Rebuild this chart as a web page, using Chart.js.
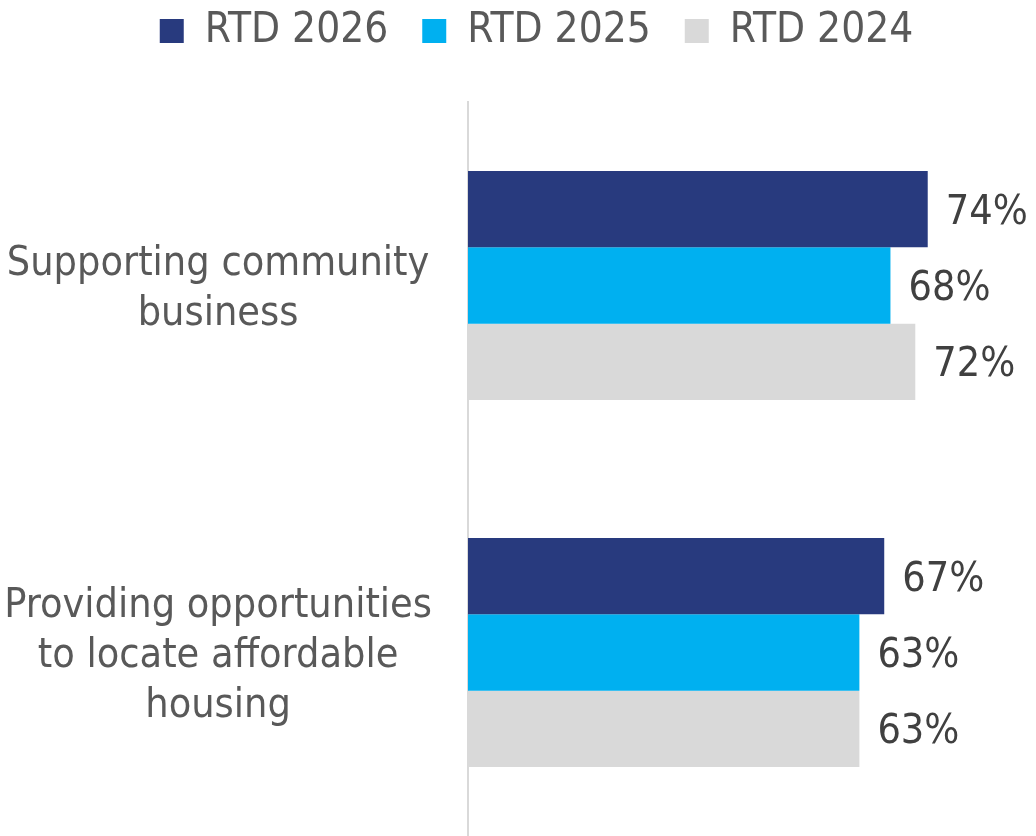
<!DOCTYPE html>
<html>
<head>
<meta charset="utf-8">
<script src="https://cdn.jsdelivr.net/npm/chart.js@4/dist/chart.umd.min.js"></script>
<style>
  html, body { margin: 0; padding: 0; background: #fff; }
  #wrap { width: 1036px; height: 836px; }
</style>
</head>
<body>
<div id="wrap"><canvas id="myChart"></canvas></div>
<script>
'use strict'

// categories, multi-line labels
var categories = [
    ['Supporting community', 'business'],
    ['Providing opportunities', 'to locate affordable', 'housing']
];

var seriesNames = ['RTD 2026', 'RTD 2025', 'RTD 2024'];

var rtd2026 = [74, 67];
var rtd2025 = [68, 63];
var rtd2024 = [72, 63];

var seriesColors = ['#283a7e', '#00b0f0', '#d9d9d9'];

var FONT = '"DejaVu Sans Condensed", "DejaVu Sans", sans-serif';

// value labels at the end of each bar
var barLabels = {
    id: 'barLabels',
    afterDatasetsDraw: function (chart) {
        var ctx = chart.ctx;
        ctx.save();
        ctx.font = '41px ' + FONT;
        ctx.fillStyle = '#404040';
        ctx.textAlign = 'left';
        ctx.textBaseline = 'middle';
        chart.data.datasets.forEach(function (ds, i) {
            chart.getDatasetMeta(i).data.forEach(function (bar, j) {
                ctx.fillText(ds.data[j] + '%', bar.x + 18, bar.y + 4);
            });
        });
        ctx.restore();
    }
};

// room under the legend, legend sits a bit right of centre
var legendSpace = {
    id: 'legendSpace',
    beforeInit: function (chart) {
        var fit = chart.legend.fit;
        chart.legend.fit = function () {
            fit.bind(chart.legend)();
            this.height = 102;
        };
    },
    afterLayout: function (chart) {
        chart.legend.left += 54;
        chart.legend.right += 54;
    }
};

var ctx = document.getElementById('myChart').getContext('2d');

var chart = new Chart(ctx, {
    type: 'bar',
    data: {
        labels: categories,
        datasets: [
            { label: seriesNames[0], data: rtd2026, backgroundColor: seriesColors[0] },
            { label: seriesNames[1], data: rtd2025, backgroundColor: seriesColors[1] },
            { label: seriesNames[2], data: rtd2024, backgroundColor: seriesColors[2] }
        ]
    },
    options: {
        indexAxis: 'y',
        responsive: true,
        maintainAspectRatio: false,
        animation: false,
        categoryPercentage: 0.624,
        barPercentage: 1,
        layout: { padding: { top: 0, right: 71, bottom: 0, left: 0 } },
        scales: {
            x: {
                display: false,
                min: 0,
                max: 80
            },
            y: {
                grid: { display: false, drawTicks: false },
                border: { display: true, color: '#d9d9d9', width: 2 },
                ticks: {
                    crossAlign: 'center',
                    padding: 36,
                    labelOffset: 4,
                    color: '#595959',
                    font: { family: FONT, size: 41, lineHeight: 1.22 }
                },
                // fixed label column, no extra top/bottom space for the tall labels
                afterFit: function (scale) {
                    scale.width = 468;
                    scale.paddingTop = 0;
                    scale.paddingBottom = 0;
                }
            }
        },
        plugins: {
            legend: {
                position: 'top',
                labels: {
                    boxWidth: 24,
                    boxHeight: 24,
                    padding: 10,
                    color: '#595959',
                    font: { family: FONT, size: 42 },
                    generateLabels: function (chart) {
                        var items = Chart.defaults.plugins.legend.labels.generateLabels(chart);
                        items.forEach(function (item, i) {
                            if (i < items.length - 1) item.text += '  ';
                        });
                        return items;
                    }
                }
            },
            tooltip: { enabled: false }
        }
    },
    plugins: [barLabels, legendSpace]
});
</script>
</body>
</html>
